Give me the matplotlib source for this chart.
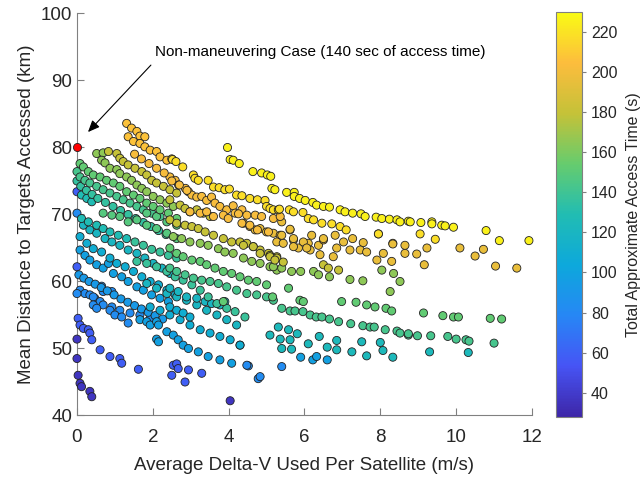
import numpy as np
import matplotlib.pyplot as plt
from matplotlib.colors import LinearSegmentedColormap

plt.rcParams['font.family'] = ['Liberation Sans', 'DejaVu Sans']

# access time bands (x = avg delta-v, y = mean distance)
dark_x = [0.00, 0.00, 0.03, 0.08, 0.12, 0.34, 0.39, 4.04]
dark_y = [51.4, 48.5, 46.0, 44.8, 44.3, 43.6, 42.8, 42.2]

ind_x = [0.03, 0.08, 0.17, 0.30, 0.34, 0.39, 0.61, 0.87, 1.13, 1.18, 1.62, 2.54, 2.63, 2.67, 2.50, 2.85,
         2.94, 3.29, 0.00, 0.00]
ind_y = [54.5, 53.5, 53.0, 52.8, 52.3, 51.3, 49.8, 48.8, 48.5, 47.8, 46.9, 47.5, 47.7, 47.0, 46.0, 45.0,
         46.8, 46.3, 73.4, 62.2]

b2_x = [0.00, 0.08, 0.21, 0.34, 0.47, 0.61, 0.69, 0.92, 1.13, 1.40, 1.66, 1.93, 0.65, 0.92,
        0.43, 0.43, 0.52, 0.69, 0.87, 1.00, 1.18, 1.35, 4.52, 4.78, 4.48, 4.83, 5.40, 0.00]
b2_y = [70.2, 58.7, 58.2, 58.0, 57.5, 57.0, 56.5, 56.2, 55.7, 55.3, 55.0, 54.5, 59.3, 58.5,
        57.7, 56.5, 56.0, 58.5, 55.7, 55.0, 54.7, 53.8, 47.4, 45.5, 47.5, 45.8, 47.3, 58.2]

b1_x = [0.08, 0.21, 0.34, 0.52, 0.69, 0.83, 0.96, 1.18, 1.35, 1.58, 1.75, 1.97, 2.19, 2.41,
        1.66, 1.84, 1.93, 2.10, 2.15, 2.10, 2.15, 2.37, 2.54, 2.67, 2.80, 2.94, 3.20, 3.46, 3.77, 4.08, 4.30,
        5.90, 6.22, 6.32, 6.60]
b1_y = [64.7, 63.9, 63.2, 62.5, 62.0, 62.7, 61.2, 60.7, 60.0, 59.2, 58.7, 58.0, 57.5, 57.0,
        54.3, 54.0, 53.5, 54.0, 53.5, 51.4, 51.0, 52.5, 52.0, 51.3, 50.5, 50.0, 49.5, 48.8, 48.3, 47.8, 50.5,
        48.7, 48.3, 48.8, 48.3]

b0_x = [0.05, 0.18, 0.32, 0.48, 0.64, 0.80, 0.98, 1.16, 1.34, 1.52, 1.70, 1.88, 2.06, 2.26]
b0_y = [61.0, 60.5, 60.0, 59.6, 59.1, 58.6, 58.0, 57.4, 56.9, 56.4, 55.9, 55.4, 54.9, 54.4]

c3_x = [0.08, 0.26, 0.43, 0.65, 0.87, 1.05, 1.27, 1.49, 1.71, 1.93, 2.15, 2.37, 2.59,
        1.93, 2.19, 2.45, 2.72, 2.98, 3.25, 3.51, 3.77, 4.04, 4.30, 2.45, 2.63, 2.80, 2.98]
c3_y = [66.7, 65.7, 64.9, 64.4, 63.5, 62.7, 62.2, 61.5, 60.7, 60.0, 59.5, 58.7, 58.0,
        56.2, 55.7, 55.0, 54.3, 53.5, 52.8, 52.3, 51.8, 51.3, 50.5, 56.2, 55.7, 55.3, 54.7]

c2_x = [0.17, 0.34, 0.52, 0.74, 0.92, 1.13, 1.35, 1.58, 1.79, 2.01, 2.24, 2.45,
        1.84, 2.10, 2.37, 2.63, 2.89, 3.16, 3.42, 3.69, 3.95, 4.21,
        2.45, 2.67, 2.89, 3.16, 3.38, 3.55, 3.77, 3.90]
c2_y = [68.4, 67.7, 67.2, 66.4, 65.9, 65.4, 64.7, 64.2, 63.5, 62.7, 62.0, 61.2,
        59.7, 59.0, 58.2, 57.7, 57.2, 56.5, 55.7, 55.0, 54.3, 53.5,
        59.0, 58.5, 57.7, 57.5, 57.0, 56.7, 56.5, 57.0]

c4_x = [5.31, 5.58, 5.81, 5.09, 5.36, 5.62, 5.66, 5.40, 6.10, 6.39, 6.60, 6.85, 6.85, 7.25, 7.51,
        7.64, 8.00, 8.07, 8.33, 9.30, 10.32]
c4_y = [53.2, 52.8, 52.2, 52.0, 51.4, 51.3, 49.9, 50.0, 50.7, 51.8, 50.2, 51.2, 49.8, 49.5, 51.0,
        48.9, 50.9, 49.7, 48.7, 49.5, 49.4]

c1_x = [0.12, 0.26, 0.39, 0.12, 0.30, 0.52, 0.69, 0.87, 1.09, 1.31]
c1_y = [72.9, 72.4, 71.9, 69.4, 68.9, 68.4, 67.9, 67.4, 66.9, 66.4]

c1b_x = [1.53, 1.75, 1.97, 2.19, 2.41, 2.63, 1.58, 1.84, 2.10, 2.37, 2.59, 2.80, 3.03, 3.25, 3.46,
         3.69, 3.95, 4.17, 4.43]
c1b_y = [65.9, 65.4, 64.8, 64.4, 63.9, 63.5, 63.0, 62.7, 62.2, 61.5, 60.7, 60.2, 59.5, 58.7, 57.7,
         56.7, 56.0, 55.5, 54.7]

tl_x = [0.00, 0.10, 0.25, 0.40, 0.55, 0.75, 0.95, 1.15, 1.35, 1.55, 1.75, 1.95, 2.15, 2.35]
tl_y = [75.0, 74.2, 73.6, 73.0, 72.4, 71.8, 71.2, 70.6, 70.0, 69.4, 68.8, 68.2, 67.6, 67.0]

teal_x = [0.00, 0.08, 0.21, 0.34, 0.52, 0.69, 0.87, 1.05, 1.22, 1.40, 1.58, 1.75, 1.97, 2.19,
          2.45, 2.63, 2.85, 3.07, 3.29, 3.51, 3.73, 3.95, 4.21, 4.48, 4.74, 5.00, 5.18,
          5.40, 5.62, 5.75, 5.96, 6.15, 6.31, 6.46, 6.66, 6.90, 7.22, 7.54, 7.73, 7.84, 8.13, 8.44, 8.74,
          8.52, 8.74, 8.98, 9.33, 9.78, 10.00, 10.26, 10.34, 11.00]
teal_y = [76.4, 75.6, 75.1, 74.7, 74.2, 73.7, 73.2, 72.7, 72.2, 71.7, 71.2, 70.7, 70.2, 69.7,
          62.0, 61.5, 61.0, 60.5, 60.2, 60.0, 59.7, 59.2, 58.7, 58.2, 58.0, 57.7, 57.2,
          56.0, 55.6, 55.6, 55.5, 55.0, 54.7, 54.7, 54.4, 54.0, 53.7, 53.4, 53.2, 53.2, 52.8, 52.6, 52.0,
          52.3, 52.2, 51.9, 51.9, 51.8, 51.4, 51.3, 51.1, 50.8]

grx_x = [1.84, 2.10, 2.37, 2.63, 1.58, 1.84, 2.10, 2.37, 2.63, 1.13, 1.35, 0.69, 0.92]
grx_y = [70.2, 69.7, 68.9, 68.4, 69.2, 68.4, 67.9, 67.2, 66.4, 69.7, 68.9, 70.2, 69.9]

gr_x = [0.08, 0.17, 0.30, 0.43, 0.61, 0.78, 0.96, 1.13, 1.31, 1.49, 1.66, 1.84, 2.01, 2.19, 2.41, 2.63,
        2.45, 2.63, 2.80, 3.03, 3.25, 3.42, 3.64, 3.86, 4.08, 4.30, 4.52, 4.74, 5.00,
        5.58, 5.16, 5.88, 5.97, 6.98, 7.36, 7.64, 7.86, 8.15, 8.30,
        9.14, 9.65, 9.93, 10.06, 10.90, 11.20, 3.86]
gr_y = [77.6, 77.1, 76.4, 75.9, 75.6, 75.1, 74.7, 74.2, 73.4, 72.9, 72.4, 71.7, 71.2, 70.7, 70.2, 69.4,
        65.0, 64.2, 63.7, 63.2, 63.0, 62.5, 62.0, 61.5, 61.2, 60.7, 60.2, 60.0, 59.5,
        59.0, 57.7, 57.2, 57.0, 57.0, 56.9, 56.5, 56.2, 56.0, 55.6,
        55.3, 54.9, 54.7, 54.7, 54.5, 54.4, 57.0]

ygr_x = [0.52, 0.69, 0.65, 0.74, 0.87, 1.05, 1.13, 1.31, 1.44, 1.58, 1.71, 1.84, 2.01, 2.19, 2.37, 2.54,
         2.54, 2.76, 2.98, 3.25, 3.46, 3.73, 3.90, 4.12, 4.39, 4.61, 4.83, 5.09, 5.27,
         5.40, 5.66, 5.90, 6.24, 6.37, 6.66, 7.20, 7.54, 8.04, 8.35, 8.52, 8.26, 5.18]
ygr_y = [79.1, 79.2, 78.1, 77.7, 76.9, 76.7, 76.1, 75.6, 75.1, 74.4, 73.9, 73.4, 72.7, 72.2, 71.7, 71.2,
         66.7, 66.4, 65.9, 65.7, 65.4, 64.9, 64.4, 64.2, 63.5, 63.0, 62.7, 62.2, 61.7,
         62.0, 61.5, 61.5, 61.5, 61.0, 60.7, 60.3, 60.1, 61.7, 61.2, 60.0, 58.5, 62.2]

oli_x = [0.83, 1.05, 1.13, 1.22, 1.35, 1.53, 1.71, 1.84, 1.97, 2.10, 2.28, 2.45, 2.63,
         2.45, 2.72, 2.85, 2.98, 3.16, 3.33, 3.51,
         2.45, 2.63, 2.85, 3.03, 3.20, 3.38, 3.60, 3.86, 4.08, 4.30, 4.48, 4.65, 4.83, 5.05, 5.27,
         4.39, 4.65, 4.83, 5.09, 5.27, 5.44, 5.09, 5.22, 6.50, 6.63, 6.90]
oli_y = [79.4, 79.1, 78.4, 77.9, 77.4, 76.9, 76.4, 75.9, 75.1, 74.7, 74.2, 73.7, 73.2,
         72.2, 71.4, 70.9, 70.4, 70.7, 70.2, 69.7,
         69.2, 68.7, 68.4, 68.2, 67.9, 67.4, 66.9, 66.4, 65.9, 65.9, 65.7, 65.2, 64.7, 64.2, 63.7,
         65.4, 65.2, 64.2, 63.9, 63.5, 62.9, 63.7, 63.2, 62.5, 62.0, 61.7]

ora3_x = [4.39, 4.56, 4.70, 4.83, 5.00, 5.18, 5.36, 5.27, 5.44, 5.62, 5.71, 5.84, 6.10, 6.15, 6.37, 6.50,
          5.40, 5.62, 6.19, 6.50, 6.81, 7.03, 7.27, 7.55, 7.95, 8.33, 5.40, 5.71, 5.97,
          5.71, 6.06, 6.41, 6.85, 7.20, 7.47, 7.64, 7.91, 8.08, 8.30, 8.33, 8.65, 6.76,
          8.65, 9.23, 10.10, 10.72, 10.50, 8.96, 9.16, 11.04, 11.60]
ora3_y = [68.7, 68.2, 67.7, 67.9, 67.4, 67.2, 66.9, 65.9, 65.7, 67.7, 66.2, 65.0, 65.7, 64.7, 65.4, 66.2,
          68.9, 67.8, 66.9, 66.4, 66.9, 65.9, 66.4, 65.8, 67.1, 65.7, 66.9, 66.4, 65.9,
          65.2, 65.0, 64.0, 65.0, 64.7, 64.7, 64.4, 63.2, 64.2, 63.0, 65.6, 64.2, 63.7,
          65.4, 65.0, 65.0, 64.8, 63.8, 64.1, 62.5, 62.3, 62.0]

ora2_x = [2.45, 2.59, 2.68, 2.86, 2.94, 3.03, 3.16, 3.29, 3.42, 3.55, 3.64, 3.77, 3.95, 4.12, 4.17, 4.35,
          4.48, 4.70, 4.87, 2.98, 3.25, 3.42, 3.60, 3.86, 3.99, 4.26, 4.35, 4.56, 4.76, 5.05, 5.18, 5.36,
          1.52, 1.70, 1.90, 2.10, 2.30, 2.50, 2.70, 2.90]
ora2_y = [75.6, 75.1, 74.4, 73.9, 73.4, 72.9, 72.6, 72.7, 72.1, 72.6, 71.7, 71.2, 70.7, 71.3, 70.2, 70.7,
          69.9, 69.9, 69.7, 70.4, 70.2, 70.4, 69.7, 69.9, 69.4, 70.1, 68.7, 68.4, 67.7, 67.4, 69.4, 69.7,
          79.0, 78.3, 77.6, 76.9, 76.2, 75.0, 74.4, 73.6]

ora1_x = [1.31, 1.44, 1.58, 1.66, 1.79, 1.35, 1.49, 1.66, 1.79, 1.93, 2.10, 2.19, 2.37, 2.50]
ora1_y = [83.6, 82.9, 82.4, 81.7, 81.6, 81.6, 80.9, 80.6, 80.1, 79.6, 79.4, 78.6, 78.1, 78.3]

yel2_x = [2.52, 2.61, 2.79, 3.07, 3.11, 3.20, 3.46, 3.60, 3.75, 3.90, 4.02, 4.21, 4.35, 4.56, 4.76, 4.96,
          5.00, 5.09, 5.18, 5.31, 5.34, 5.60, 5.71, 5.96, 6.10, 6.24, 6.46, 6.72, 6.94, 7.10, 7.95, 9.05, 9.45]
yel2_y = [78.2, 77.9, 77.1, 75.9, 75.4, 75.1, 75.1, 74.1, 74.0, 73.7, 73.8, 72.9, 72.8, 72.4, 72.2, 72.1,
          71.2, 70.9, 70.7, 70.7, 70.8, 70.7, 70.4, 70.3, 69.4, 69.2, 68.7, 68.6, 68.2, 67.7, 67.1, 67.1, 66.3]

yel_x = [3.97, 4.04, 4.12, 4.28, 4.64, 4.87, 5.02, 5.11, 5.14, 5.22, 5.53, 5.73, 5.73, 5.87, 6.02, 6.22,
         6.32, 6.50, 6.66, 6.94, 7.07, 7.27, 7.49, 7.60, 7.89, 8.04, 8.24, 8.44, 8.52, 8.74, 8.79, 9.07,
         9.36, 9.36, 9.62, 9.71, 9.93, 10.79, 11.14, 11.92]
yel_y = [80.0, 78.2, 78.1, 77.6, 76.4, 76.2, 75.9, 75.7, 73.9, 73.7, 73.3, 73.3, 72.7, 72.4, 72.1, 71.8,
         71.4, 71.2, 71.1, 70.7, 70.4, 70.2, 70.1, 69.7, 69.6, 69.4, 69.3, 69.2, 68.9, 69.0, 68.9, 68.8,
         68.9, 68.6, 68.4, 68.3, 68.1, 67.6, 66.1, 66.1]

band_time = [36, 58, 82, 92, 98, 110, 120, 124, 128, 138, 136, 143, 148, 152, 165, 180, 196, 202, 207, 218, 226]
bands = [(dark_x, dark_y), (ind_x, ind_y), (b2_x, b2_y), (b0_x, b0_y), (b1_x, b1_y), (c3_x, c3_y),
         (c2_x, c2_y), (c4_x, c4_y), (c1_x, c1_y), (c1b_x, c1b_y), (tl_x, tl_y), (teal_x, teal_y),
         (grx_x, grx_y), (gr_x, gr_y), (ygr_x, ygr_y), (oli_x, oli_y), (ora3_x, ora3_y),
         (ora2_x, ora2_y), (ora1_x, ora1_y), (yel2_x, yel2_y), (yel_x, yel_y)]

dv, dist, access = [], [], []
for (bx, by), t in zip(bands, band_time):
    dv += bx
    dist += by
    access += [t] * len(bx)

# non-maneuvering case
nm_dv = 0.0
nm_dist = 80.0

parula = LinearSegmentedColormap.from_list('parula', [
    (0.000, (0.2422, 0.1504, 0.6603)),
    (0.125, (0.2760, 0.3300, 0.9600)),
    (0.250, (0.1500, 0.5300, 0.9600)),
    (0.375, (0.0500, 0.6600, 0.8600)),
    (0.500, (0.1300, 0.7400, 0.7000)),
    (0.625, (0.4000, 0.8000, 0.4300)),
    (0.750, (0.7700, 0.7600, 0.2200)),
    (0.875, (0.9900, 0.7400, 0.2400)),
    (1.000, (0.9769, 0.9839, 0.0805))])

fig = plt.figure(figsize=(6.42, 4.8), dpi=100)
ax = fig.add_axes([0.1199, 0.1344, 0.7087, 0.8375])
cax = fig.add_axes([0.866, 0.1319, 0.0405, 0.8431])

sc = ax.scatter(dv, dist, c=access, cmap=parula, vmin=28, vmax=230, s=34,
                edgecolors='#222222', linewidths=0.6, clip_on=False, zorder=3)
ax.scatter([nm_dv], [nm_dist], c='#ff0000', s=34, edgecolors='#222222', linewidths=0.6,
           clip_on=False, zorder=4)

ax.annotate('', xy=(0.24, 82.0), xytext=(2.0, 92.6),
            arrowprops=dict(arrowstyle='-|>,head_length=0.7,head_width=0.3', color='k', lw=0.8))
ax.text(2.06, 94.3, 'Non-maneuvering Case (140 sec of access time)', fontsize=11,
        ha='left', va='center', color='k')

ax.set_xlim(0, 12)
ax.set_ylim(40, 100)
ax.set_xticks(np.arange(0, 13, 2))
ax.set_yticks(np.arange(40, 101, 10))
ax.spines['top'].set_visible(False)
ax.spines['right'].set_visible(False)
for sp in ['left', 'bottom']:
    ax.spines[sp].set_color('#808080')
    ax.spines[sp].set_linewidth(0.8)
ax.tick_params(direction='in', length=5, width=0.8, color='#808080', labelcolor='#262626',
               labelsize=13.5)
ax.tick_params(axis='x', pad=10)
ax.set_xlabel('Average Delta-V Used Per Satellite (m/s)', fontsize=13.5, color='#262626', labelpad=8)
ax.set_ylabel('Mean Distance to Targets Accessed (km)', fontsize=13.5, color='#262626')

cb = fig.colorbar(sc, cax=cax)
cb.set_ticks(np.arange(40, 221, 20))
cb.outline.set_edgecolor('#808080')
cb.outline.set_linewidth(0.8)
cax.tick_params(direction='out', length=3, width=0.8, color='#808080', labelcolor='#262626',
                labelsize=11.5)
cb.set_label('Total Approximate Access Time (s)', fontsize=11.5, color='#262626', labelpad=6)

fig.savefig('out.png', dpi=100)
